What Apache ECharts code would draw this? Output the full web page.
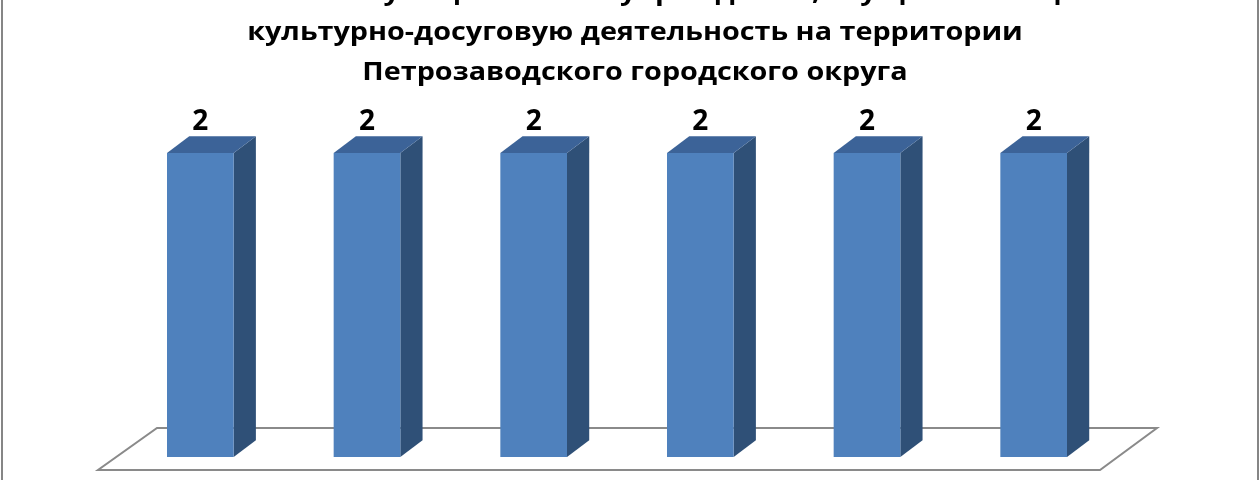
<!DOCTYPE html>
<html>
<head>
<meta charset="utf-8">
<script src="https://cdn.jsdelivr.net/npm/echarts@6/dist/echarts.min.js"></script>
<style>html,body{margin:0;padding:0;background:#fff}#c{width:1260px;height:480px}</style>
</head>
<body>
<div id="c"></div>
<script>
const titleLines = [
  "Количество муниципальных учреждений, осуществляющих",
  "культурно-досуговую деятельность на территории",
  "Петрозаводского городского округа"
];
const categories = ["1", "2", "3", "4", "5", "6"];
const values = [2, 2, 2, 2, 2, 2];

const chart = echarts.init(document.getElementById('c'));
const FRONT = '#4F81BD', SIDE = '#2F5077', TOP = '#3C6398';

function renderBar(params, api) {
  const x = api.value(0), v = api.value(1);
  const top = api.coord([x, v]);
  const base = api.coord([x, 0]);
  const bw = api.size([1, 0])[0] * 0.4;
  const dx = bw / 3, dy = bw * 0.25;
  const l = top[0] - bw / 2, r = l + bw;
  return {
    type: 'group',
    children: [
      { type: 'polygon', shape: { points: [[r, top[1]], [r + dx, top[1] - dy], [r + dx, base[1] - dy], [r, base[1]]] }, style: { fill: SIDE } },
      { type: 'polygon', shape: { points: [[l, top[1]], [l + dx, top[1] - dy], [r + dx, top[1] - dy], [r, top[1]]] }, style: { fill: TOP } },
      { type: 'rect', shape: { x: l, y: top[1], width: bw, height: base[1] - top[1] }, style: { fill: FRONT } },
      { type: 'text', x: top[0], y: top[1] - 31, style: { text: String(v), fill: '#000', font: 'bold 28px "Open Sans", sans-serif', align: 'center', verticalAlign: 'middle' } }
    ]
  };
}

function renderFloor(params, api) {
  const cs = params.coordSys;
  const y0 = api.coord([0, 0])[1];
  const L = cs.x, R = cs.x + cs.width;
  return {
    type: 'polygon',
    shape: { points: [[L - 19, y0 + 13], [R - 17, y0 + 13], [R + 40, y0 - 29], [L + 40, y0 - 29]] },
    style: { fill: '#fff', stroke: '#8a8a8a', lineWidth: 2 }
  };
}

chart.setOption({
  backgroundColor: '#fff',
  animation: false,
  graphic: [
    { type: 'rect', shape: { x: 2, y: -10, width: 1256, height: 500 }, style: { fill: 'none', stroke: '#868686', lineWidth: 2 }, z: 0 },
    { type: 'text', x: 635, y: 33, scaleX: 1.15, style: { text: titleLines.join('\n'), fill: '#000', font: 'bold 25px "Open Sans", sans-serif', lineHeight: 40, align: 'center', verticalAlign: 'middle' }, z: 10 }
  ],
  grid: { left: 117, right: 143, top: 153, bottom: 23 },
  xAxis: { type: 'category', data: categories, show: false },
  yAxis: { type: 'value', min: 0, max: 2, show: false },
  series: [
    { type: 'custom', renderItem: renderFloor, data: [[0]], z: 1, silent: true },
    { type: 'custom', renderItem: renderBar, data: values.map((v, i) => [i, v]), z: 2 }
  ]
});
</script>
</body>
</html>
